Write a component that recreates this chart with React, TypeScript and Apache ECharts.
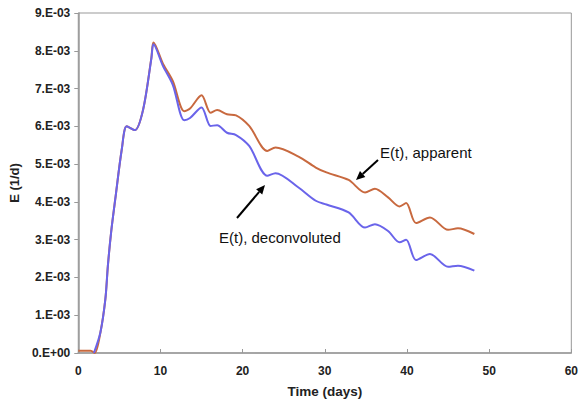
import React, { useEffect, useRef } from "react";
import * as echarts from "echarts";

// Values in units of 1e-3 (1/d)
const timeDecon = [1.9, 2.7, 3.3, 3.6, 4.0, 4.5, 5.3, 5.9, 6.9, 7.9, 8.9, 9.15, 10.3, 11.5, 12.9, 13.6, 15.0, 16.1, 16.9, 18.1, 19.2, 20.8, 23.0, 24.0, 26.8, 28.9, 30.2, 32.9, 34.9, 36.1, 37.7, 39.1, 39.9, 41.1, 42.8, 45.0, 46.2, 48.2];
const deconvoluted = [0.0, 0.55, 1.43, 2.3, 3.2, 4.07, 5.4, 6.0, 5.9, 6.45, 7.8, 8.17, 7.6, 7.1, 6.16, 6.22, 6.5, 6.01, 6.03, 5.83, 5.77, 5.48, 4.69, 4.76, 4.38, 4.03, 3.93, 3.72, 3.32, 3.41, 3.23, 2.93, 3.0, 2.46, 2.62, 2.28, 2.31, 2.18];

const timeApp = [0, 1.5, 2.0, 2.7, 3.3, 3.6, 4.0, 4.5, 5.3, 5.9, 6.9, 7.9, 8.9, 9.15, 10.3, 11.5, 12.9, 13.6, 15.0, 16.1, 16.9, 18.1, 19.2, 20.8, 23.0, 24.0, 26.8, 28.9, 30.2, 32.9, 34.9, 36.1, 37.7, 39.1, 39.9, 41.1, 42.8, 45.0, 46.2, 48.2];
const apparent = [0.06, 0.06, 0.0, 0.55, 1.43, 2.3, 3.2, 4.07, 5.4, 6.0, 5.9, 6.45, 7.82, 8.22, 7.66, 7.2, 6.4, 6.47, 6.82, 6.36, 6.43, 6.32, 6.29, 6.01, 5.35, 5.44, 5.2, 4.91, 4.78, 4.58, 4.25, 4.35, 4.12, 3.88, 3.97, 3.44, 3.59, 3.26, 3.3, 3.15];

const yTickLabels = ["0.E+00", "1.E-03", "2.E-03", "3.E-03", "4.E-03", "5.E-03", "6.E-03", "7.E-03", "8.E-03", "9.E-03"];
const xTicks = [0, 10, 20, 30, 40, 50, 60];

const UNIT = 1e-3;

function arrow(x1: number, y1: number, x2: number, y2: number) {
  const ang = Math.atan2(y2 - y1, x2 - x1);
  const len = 9, w = 4;
  const bx = x2 - len * Math.cos(ang), by = y2 - len * Math.sin(ang);
  const px = -Math.sin(ang) * w, py = Math.cos(ang) * w;
  return [
    { type: "line", shape: { x1, y1, x2: bx, y2: by }, style: { stroke: "#000", lineWidth: 2 } },
    { type: "polygon", shape: { points: [[x2, y2], [bx + px, by + py], [bx - px, by - py]] }, style: { fill: "#000" } },
  ];
}

export default function App() {
  const ref = useRef<HTMLDivElement>(null);
  useEffect(() => {
    if (!ref.current) return;
    const chart = echarts.init(ref.current, null, { renderer: "svg" });
    const labelStyle = { color: "#222", fontWeight: "bold" as const, fontFamily: "Liberation Sans, Arial, sans-serif", fontSize: 12 };
    chart.setOption({
      animation: false,
      backgroundColor: "#fff",
      grid: { left: 78, right: 7, top: 13, bottom: 49, show: true, borderColor: "#999", borderWidth: 1 },
      xAxis: {
        type: "value", min: 0, max: 60, interval: 10,
        name: "Time (days)", nameLocation: "middle", nameGap: 31,
        nameTextStyle: { ...labelStyle, fontSize: 13.5 },
        axisLine: { lineStyle: { color: "#999", width: 1.5 } },
        axisTick: { show: true, inside: true, length: 4, lineStyle: { color: "#999" } },
        splitLine: { show: false },
        axisLabel: { ...labelStyle, margin: 12, formatter: (v: number) => (xTicks.includes(v) ? String(v) : "") },
      },
      yAxis: {
        type: "value", min: 0, max: 9 * UNIT, interval: UNIT,
        name: "E (1/d)", nameLocation: "middle", nameGap: 50, nameRotate: 90,
        nameTextStyle: { ...labelStyle, fontSize: 13 },
        axisLine: { show: true, lineStyle: { color: "#999", width: 1.5 } },
        axisTick: { show: true, inside: false, length: 4, lineStyle: { color: "#999" } },
        splitLine: { show: false },
        axisLabel: { ...labelStyle, margin: 8, formatter: (v: number) => yTickLabels[Math.round(v / UNIT)] ?? "" },
      },
      series: [
        {
          type: "line", name: "E(t), apparent", smooth: 0.3, symbol: "none",
          lineStyle: { color: "#c8693f", width: 2 },
          data: timeApp.map((t, i) => [t, apparent[i] * UNIT]),
        },
        {
          type: "line", name: "E(t), deconvoluted", smooth: 0.3, symbol: "none",
          lineStyle: { color: "#6a64ea", width: 2 },
          data: timeDecon.map((t, i) => [t, deconvoluted[i] * UNIT]),
        },
      ],
      graphic: [
        { type: "text", x: 380, y: 152, style: { text: "E(t), apparent", fontSize: 15, fontFamily: "Liberation Sans, Arial, sans-serif", fill: "#111", verticalAlign: "middle" } },
        { type: "text", x: 219, y: 237, style: { text: "E(t), deconvoluted", fontSize: 15, fontFamily: "Liberation Sans, Arial, sans-serif", fill: "#111", verticalAlign: "middle" } },
        ...arrow(378, 160, 356, 180),
        ...arrow(237, 218, 265, 185),
      ],
    });
    return () => chart.dispose();
  }, []);
  return <div ref={ref} style={{ width: 581, height: 403, position: "fixed", left: 0, top: 0 }} />;
}
